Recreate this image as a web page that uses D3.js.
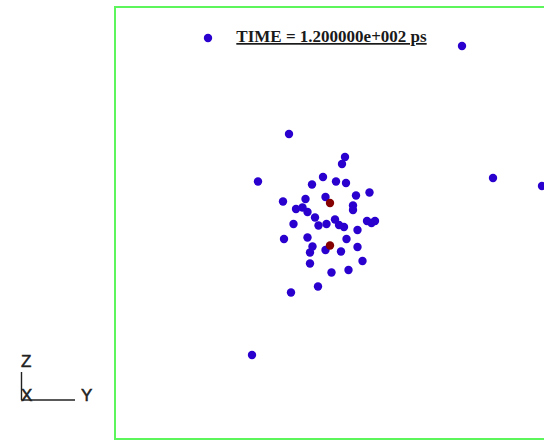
<!DOCTYPE html>
<html>
<head>
<meta charset="utf-8">
<script src="https://cdn.jsdelivr.net/npm/d3@7"></script>
<style>
  html, body { margin: 0; padding: 0; background: #ffffff; overflow: hidden; }
  svg { display: block; }
</style>
</head>
<body>
<script>
// Atom positions projected onto the Y–Z plane (Å)
const soluteY = [-12.2, 13.2, 16.3, 21.2, -7.8, -4.1, 1.5, 1.2, -7.2, -0.7,
                 -1.8, 0.6, 1.6, 3.95, 2.6, -0.45, -4.7, -2.45, -3.4, -2.75,
                 -2.25, 2.3, 2.3, -1.5, -3.65, -1.15, -0.35, 0.5, 0.9, 1.4,
                 3.7, 4.5, 4.15, 2.75, -4.6, -2.25, 1.65, -1.75, -2.0, -0.45,
                 1.1, 2.75, 3.25, -2.0, 1.85, 0.15, -1.2, -3.9];
const soluteZ = [18.6, 17.8, 4.6, 3.8, -13.1, 9.0, 6.7, 6.0, 4.25, 4.7,
                 3.95, 4.25, 4.1, 3.15, 2.85, 2.7, 2.25, 2.5, 1.5, 1.65,
                 1.2, 1.85, 1.4, 0.65, 0.0, -0.15, 0.0, 0.45, -0.1, -0.3,
                 0.3, 0.3, 0.1, -0.6, -1.5, -1.35, -1.5, -2.25, -2.85, -2.6,
                 -2.75, -2.3, -3.7, -3.95, -4.6, -4.85, -6.25, -6.85];
// Central pair
const centerY = [0.0, 0.0];
const centerZ = [2.1, -2.15];

const timeLabel = "TIME = 1.200000e+002 ps";

const W = 544, H = 441;
const frame = { left: 115, top: 7, right: 560, bottom: 439 };

const svg = d3.select("body").append("svg")
  .attr("width", W).attr("height", H);

const x = d3.scaleLinear().domain([-21.5, 23.0]).range([frame.left, frame.right]);
const y = d3.scaleLinear().domain([-21.5, 21.7]).range([frame.bottom, frame.top]);

// viewport frame
svg.append("rect")
  .attr("x", frame.left).attr("y", frame.top)
  .attr("width", frame.right - frame.left).attr("height", frame.bottom - frame.top)
  .attr("fill", "none")
  .attr("stroke", "#5cf55c")
  .attr("stroke-width", 2);

const blue = soluteY.map((v, i) => ({ y: v, z: soluteZ[i] }));
const red = centerY.map((v, i) => ({ y: v, z: centerZ[i] }));

svg.append("g").selectAll("circle").data(blue).join("circle")
  .attr("cx", d => x(d.y))
  .attr("cy", d => y(d.z))
  .attr("r", 4.2)
  .attr("fill", "#2a00cf");

svg.append("g").selectAll("circle").data(red).join("circle")
  .attr("cx", d => x(d.y))
  .attr("cy", d => y(d.z))
  .attr("r", 4.2)
  .attr("fill", "#850000");

// time stamp
svg.append("text")
  .attr("x", 331.5).attr("y", 42)
  .attr("text-anchor", "middle")
  .attr("font-family", "'Liberation Serif', 'Times New Roman', serif")
  .attr("font-weight", "bold")
  .attr("font-size", 17)
  .attr("text-decoration", "underline")
  .attr("fill", "#1a1a1a")
  .text(timeLabel);

// orientation axes
const ax = svg.append("g").attr("stroke", "#222").attr("stroke-width", 1.4);
ax.append("line").attr("x1", 21.5).attr("y1", 372).attr("x2", 21.5).attr("y2", 400);
ax.append("line").attr("x1", 21.5).attr("y1", 400).attr("x2", 75).attr("y2", 400);

const lbl = svg.append("g")
  .attr("font-family", "'Liberation Sans', Arial, sans-serif")
  .attr("font-size", 17)
  .attr("fill", "#222")
  .attr("stroke", "#222")
  .attr("stroke-width", 0.5);
lbl.append("text").attr("x", 21).attr("y", 367).text("Z");
lbl.append("text").attr("x", 21).attr("y", 401).text("X");
lbl.append("text").attr("x", 81).attr("y", 401).text("Y");
</script>
</body>
</html>
